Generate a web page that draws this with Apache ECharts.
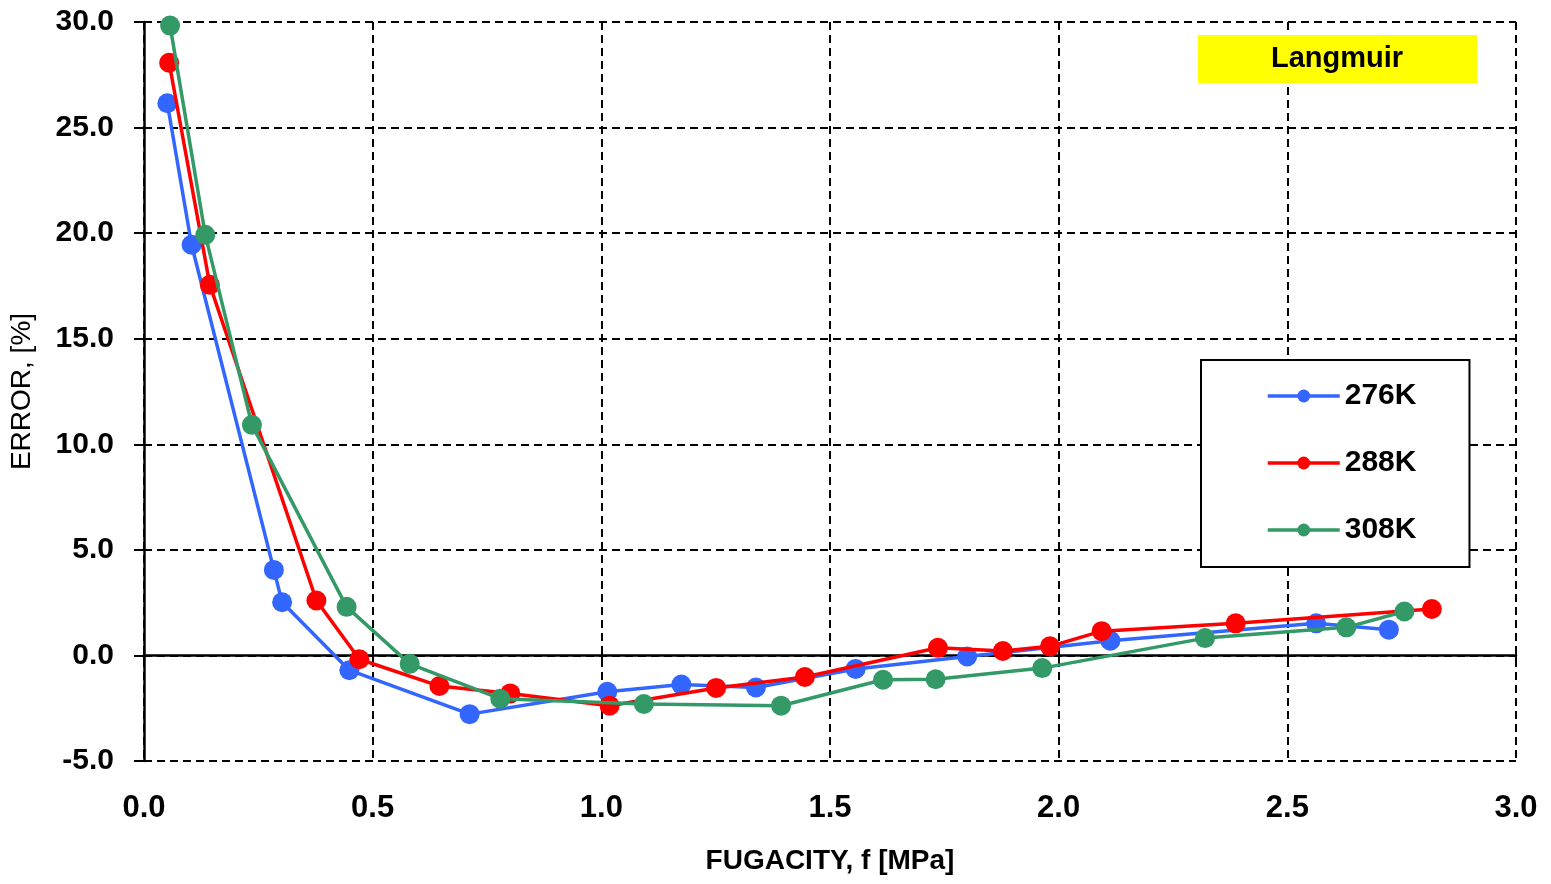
<!DOCTYPE html>
<html>
<head>
<meta charset="utf-8">
<title>Langmuir error vs fugacity</title>
<script src="https://cdn.jsdelivr.net/npm/echarts@6/dist/echarts.min.js"></script>
<style>
  html, body { margin: 0; padding: 0; background: #ffffff; }
  #chart { width: 1551px; height: 884px; }
</style>
</head>
<body>
<div id="chart"></div>
<script>
// Fugacity [MPa] and relative error [%] for each temperature
const f276 = [0.051, 0.104, 0.284, 0.302, 0.449, 0.712, 1.013, 1.175, 1.338, 1.556, 1.800, 2.113, 2.563, 2.722];
const e276 = [26.15, 19.45, 4.05, 2.52, -0.70, -2.78, -1.72, -1.38, -1.52, -0.64, -0.05, 0.70, 1.52, 1.22];

const f288 = [0.055, 0.144, 0.377, 0.471, 0.646, 0.801, 1.018, 1.251, 1.445, 1.736, 1.878, 1.981, 2.094, 2.387, 2.816];
const e288 = [28.07, 17.55, 2.60, -0.18, -1.45, -1.80, -2.38, -1.54, -1.02, 0.36, 0.21, 0.43, 1.15, 1.52, 2.20];

const f308 = [0.057, 0.134, 0.236, 0.443, 0.581, 0.779, 1.093, 1.393, 1.616, 1.731, 1.964, 2.320, 2.629, 2.756];
const e308 = [29.83, 19.92, 10.92, 2.30, -0.40, -2.05, -2.30, -2.38, -1.15, -1.13, -0.60, 0.82, 1.33, 2.08];

const seriesNames = ['276K', '288K', '308K'];
const seriesColors = ['#3366FF', '#FF0000', '#339966'];

const xTicks = { min: 0, max: 3, step: 0.5 };
const yTicks = { min: -5, max: 30, step: 5 };

const FONT = '"Liberation Sans", Arial, sans-serif';

function pairs(xs, ys) {
  return xs.map((x, i) => [x, ys[i]]);
}
const seriesData = [pairs(f276, e276), pairs(f288, e288), pairs(f308, e308)];

const chart = echarts.init(document.getElementById('chart'), null, { renderer: 'canvas' });

const dashed = { color: '#000000', width: 2, type: [8, 5] };

const option = {
  backgroundColor: '#ffffff',
  animation: false,
  title: {
    text: 'Langmuir',
    left: 1198,
    top: 35,
    backgroundColor: '#FFFF00',
    padding: [9, 74, 9, 73],
    textStyle: {
      fontFamily: FONT,
      fontSize: 29,
      fontWeight: 'bold',
      color: '#000000',
      lineHeight: 30
    }
  },
  legend: {
    orient: 'vertical',
    left: 1201,
    top: 360,
    padding: [21, 53, 22, 65],
    itemGap: 37,
    itemWidth: 72,
    itemHeight: 16,
    backgroundColor: '#ffffff',
    borderColor: '#000000',
    borderWidth: 2,
    borderRadius: 0,
    data: seriesNames,
    lineStyle: { width: 3.5 },
    textStyle: {
      fontFamily: FONT,
      fontSize: 30,
      fontWeight: 'bold',
      color: '#000000',
      lineHeight: 30,
      padding: [0, 0, 0, 0]
    }
  },
  grid: {
    left: 143,
    right: 35,
    top: 22,
    bottom: 123
  },
  xAxis: [
    {
      type: 'value',
      position: 'bottom',
      min: xTicks.min,
      max: xTicks.max,
      interval: xTicks.step,
      name: 'FUGACITY, f [MPa]',
      nameLocation: 'middle',
      nameGap: 86,
      nameTextStyle: {
        fontFamily: FONT,
        fontSize: 28,
        fontWeight: 'bold',
        color: '#000000'
      },
      axisLine: { show: false, onZero: false },
      axisTick: { show: false },
      axisLabel: {
        margin: 32,
        fontFamily: FONT,
        fontSize: 31,
        fontWeight: 'bold',
        color: '#000000',
        formatter: v => v.toFixed(1)
      },
      splitLine: { show: true, lineStyle: dashed }
    },
    {
      type: 'value',
      position: 'bottom',
      min: xTicks.min,
      max: xTicks.max,
      interval: xTicks.step,
      axisLine: { show: true, onZero: true, onZeroAxisIndex: 0, lineStyle: { color: '#000000', width: 2.5 } },
      axisTick: { show: true, inside: false, length: 7, lineStyle: { color: '#000000', width: 2 } },
      axisLabel: { show: false },
      splitLine: { show: false }
    },
    {
      type: 'value',
      position: 'bottom',
      min: xTicks.min,
      max: xTicks.max,
      interval: xTicks.step,
      axisLine: { show: false, onZero: true, onZeroAxisIndex: 0 },
      axisTick: { show: true, inside: true, length: 6, lineStyle: { color: '#000000', width: 2 } },
      axisLabel: { show: false },
      splitLine: { show: false }
    }
  ],
  yAxis: {
    type: 'value',
    min: yTicks.min,
    max: yTicks.max,
    interval: yTicks.step,
    name: 'ERROR, [%]',
    nameLocation: 'middle',
    nameGap: 108,
    nameTextStyle: {
      fontFamily: FONT,
      fontSize: 28,
      fontWeight: 'normal',
      color: '#000000'
    },
    axisLine: { show: true, onZero: false, lineStyle: { color: '#000000', width: 2.5 } },
    axisTick: { show: true, inside: false, length: 10, lineStyle: { color: '#000000', width: 2 } },
    axisLabel: {
      margin: 30,
      fontFamily: FONT,
      fontSize: 30,
      fontWeight: 'bold',
      color: '#000000',
      formatter: v => v.toFixed(1)
    },
    splitLine: { show: true, lineStyle: dashed }
  },
  series: seriesNames.map((name, i) => ({
    name: name,
    type: 'line',
    xAxisIndex: 0,
    data: seriesData[i],
    symbol: 'circle',
    symbolSize: 20,
    showAllSymbol: true,
    color: seriesColors[i],
    lineStyle: { color: seriesColors[i], width: 3.5 },
    itemStyle: { color: seriesColors[i] },
    emphasis: { disabled: true },
    z: 3 + i
  }))
};

chart.setOption(option);
</script>
</body>
</html>
